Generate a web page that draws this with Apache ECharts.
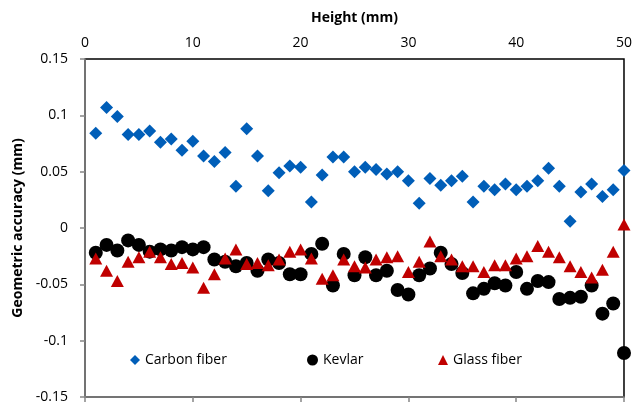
<!DOCTYPE html>
<html>
<head>
    <meta charset="utf-8">
    <title>Geometric accuracy</title>
    <script src="https://cdn.jsdelivr.net/npm/echarts@6/dist/echarts.min.js"></script>
</head>
<body style="margin:0">
<div id="main" style="width: 635px;height:406px;"></div>
<script type="text/javascript">
    // 高度 (mm)
    var heights = [];
    for (var i = 1; i <= 50; i++) heights.push(i);

    var carbon = [0.084, 0.107, 0.099, 0.083, 0.083, 0.086, 0.076, 0.079, 0.069, 0.077,
        0.064, 0.059, 0.067, 0.037, 0.088, 0.064, 0.033, 0.049, 0.055, 0.054,
        0.023, 0.047, 0.063, 0.063, 0.050, 0.054, 0.052, 0.048, 0.050, 0.042,
        0.022, 0.044, 0.038, 0.042, 0.046, 0.023, 0.037, 0.034, 0.039, 0.034,
        0.037, 0.042, 0.053, 0.037, 0.006, 0.032, 0.039, 0.028, 0.034, 0.051];
    var kevlar = [-0.022, -0.015, -0.020, -0.011, -0.015, -0.021, -0.019, -0.020, -0.017, -0.019,
        -0.017, -0.028, -0.030, -0.034, -0.031, -0.038, -0.028, -0.031, -0.041, -0.041,
        -0.023, -0.014, -0.051, -0.023, -0.042, -0.026, -0.042, -0.038, -0.055, -0.059,
        -0.042, -0.036, -0.022, -0.032, -0.040, -0.058, -0.054, -0.049, -0.051, -0.039,
        -0.054, -0.047, -0.048, -0.063, -0.062, -0.061, -0.051, -0.076, -0.067, -0.111];
    var glass = [-0.027, -0.038, -0.047, -0.030, -0.026, -0.021, -0.026, -0.032, -0.031, -0.035,
        -0.053, -0.041, -0.027, -0.019, -0.032, -0.031, -0.033, -0.028, -0.021, -0.019,
        -0.027, -0.045, -0.042, -0.028, -0.034, -0.035, -0.028, -0.026, -0.025, -0.039,
        -0.030, -0.012, -0.025, -0.028, -0.034, -0.034, -0.039, -0.033, -0.033, -0.027,
        -0.025, -0.016, -0.021, -0.026, -0.034, -0.039, -0.044, -0.037, -0.021, 0.003];
    var xTicks = [0, 10, 20, 30, 40, 50];
    var yTicks = [-0.15, -0.1, -0.05, 0, 0.05, 0.1, 0.15];

    function pairs(ys) {
        return heights.map(function (h, k) { return [h, ys[k]]; });
    }

    var font = 'Open Sans';
    var txt = {color: '#000', fontFamily: font, fontSize: 14};

    var myChart = echarts.init(document.getElementById('main'));
    var option = {
        animation: false,
        backgroundColor: '#fff',
        grid: {
            left: 85, right: 11, top: 59, bottom: 9,
            show: true, borderColor: '#000', borderWidth: 1.5
        },
        legend: [
            {data: ['Carbon fiber'], left: 125, top: 348, itemWidth: 10, itemHeight: 10, itemGap: 2, textStyle: txt},
            {data: ['Kevlar'], left: 302, top: 348, itemWidth: 11, itemHeight: 11, textStyle: txt},
            {data: ['Glass fiber'], left: 433, top: 348, itemWidth: 10, itemHeight: 10, textStyle: txt}
        ],
        xAxis: [{
            type: 'value', position: 'top',
            min: xTicks[0], max: xTicks[xTicks.length - 1], interval: 10,
            name: 'Height (mm)', nameLocation: 'middle', nameGap: 34,
            nameTextStyle: {color: '#000', fontFamily: font, fontSize: 14, fontWeight: 'bold'},
            axisLine: {show: false}, axisTick: {show: false}, splitLine: {show: false},
            axisLabel: {margin: 9, color: '#000', fontFamily: font, fontSize: 14}
        }, {
            type: 'value', position: 'bottom',
            min: xTicks[0], max: xTicks[xTicks.length - 1], interval: 10,
            axisLine: {onZero: true, lineStyle: {color: '#868686', width: 1.5}},
            axisTick: {show: true, length: 5, lineStyle: {color: '#868686', width: 1.5}},
            axisLabel: {show: false}, splitLine: {show: false}
        }],
        yAxis: {
            type: 'value',
            min: yTicks[0], max: yTicks[yTicks.length - 1], interval: 0.05,
            name: 'Geometric accuracy (mm)', nameLocation: 'middle', nameGap: 60,
            nameTextStyle: {color: '#000', fontFamily: font, fontSize: 14, fontWeight: 'bold'},
            axisLine: {show: true, onZero: false, lineStyle: {color: '#868686', width: 1.5}},
            axisTick: {show: true, length: 5, lineStyle: {color: '#868686', width: 1.5}},
            splitLine: {show: false},
            axisLabel: {
                margin: 17, color: '#000', fontFamily: font, fontSize: 14,
                formatter: function (v) { return String(+v.toFixed(2)); }
            }
        },
        series: [{
            name: 'Carbon fiber', type: 'scatter', symbol: 'diamond', symbolSize: 13,
            itemStyle: {color: '#005EB8', opacity: 1}, data: pairs(carbon)
        }, {
            name: 'Kevlar', type: 'scatter', symbol: 'circle', symbolSize: 14,
            itemStyle: {color: '#000', opacity: 1}, data: pairs(kevlar)
        }, {
            name: 'Glass fiber', type: 'scatter', symbol: 'triangle', symbolSize: [13, 12],
            itemStyle: {color: '#C00000', opacity: 1}, data: pairs(glass)
        }]
    };
    myChart.setOption(option);
</script>
</body>
</html>
